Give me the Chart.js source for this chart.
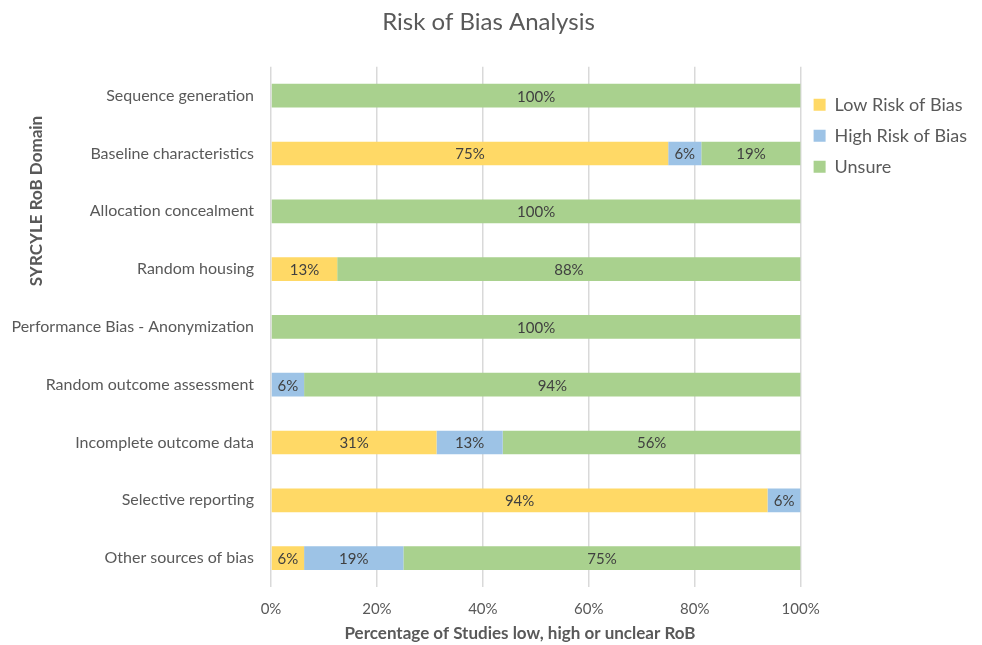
<!DOCTYPE html>
<html>
<head>
<meta charset="utf-8">
<script src="https://cdn.jsdelivr.net/npm/chart.js@4"></script>
<style>
  html, body { margin: 0; padding: 0; background: #fff; }
  #wrap { width: 982px; height: 645px; }
</style>
</head>
<body>
<div id="wrap"><canvas id="robChart"></canvas></div>
<script>
// domains, top to bottom
const domains = [
  'Sequence generation',
  'Baseline characteristics',
  'Allocation concealment',
  'Random housing',
  'Performance Bias - Anonymization',
  'Random outcome assessment',
  'Incomplete outcome data',
  'Selective reporting',
  'Other sources of bias'
];
// percent of studies per domain (16 studies)
const lowRisk  = [0, 75, 0, 12.5, 0, 0, 31.25, 93.75, 6.25];
const highRisk = [0, 6.25, 0, 0, 0, 6.25, 12.5, 6.25, 18.75];
const unsure   = [100, 18.75, 100, 87.5, 100, 93.75, 56.25, 0, 75];
const xTicks = [0, 20, 40, 60, 80, 100];

const FONT = 'Lato, "Noto Sans", sans-serif';

// labels in the middle of each bar segment
const segmentLabels = {
  id: 'segmentLabels',
  afterDatasetsDraw(chart) {
    const ctx = chart.ctx;
    ctx.save();
    ctx.font = '15px ' + FONT;
    ctx.fillStyle = '#404040';
    ctx.textAlign = 'center';
    ctx.textBaseline = 'middle';
    chart.data.datasets.forEach((ds, i) => {
      chart.getDatasetMeta(i).data.forEach((bar, j) => {
        const v = ds.data[j];
        if (!v) return;
        ctx.fillText(Math.round(v) + '%', (bar.x + bar.base) / 2, bar.y + 1);
      });
    });
    ctx.restore();
  }
};

// axis titles were moved by hand in the original, so draw them here
const axisTitles = {
  id: 'axisTitles',
  afterDraw(chart) {
    const ctx = chart.ctx;
    ctx.save();
    ctx.fillStyle = '#595959';
    ctx.textAlign = 'center';
    ctx.textBaseline = 'middle';
    ctx.font = 'bold 17px ' + FONT;
    ctx.fillText('Percentage of Studies low, high or unclear RoB', 520, 634);
    ctx.translate(37, 201);
    ctx.rotate(-Math.PI / 2);
    ctx.fillText('SYRCYLE RoB Domain', 0, 0);
    ctx.restore();
  }
};

const ctx = document.getElementById('robChart').getContext('2d');
new Chart(ctx, {
  type: 'bar',
  data: {
    labels: domains,
    datasets: [
      { label: 'Low Risk of Bias', data: lowRisk, backgroundColor: '#FFD966' },
      { label: 'High Risk of Bias', data: highRisk, backgroundColor: '#9DC3E6' },
      { label: 'Unsure', data: unsure, backgroundColor: '#A9D18E' }
    ]
  },
  options: {
    indexAxis: 'y',
    responsive: true,
    maintainAspectRatio: false,
    animation: false,
    barPercentage: 0.41,
    categoryPercentage: 1,
    layout: { padding: { left: 0, right: 5, top: 0, bottom: 27 } },
    plugins: {
      title: {
        display: true,
        text: 'Risk of Bias Analysis',
        color: '#595959',
        font: { family: FONT, size: 24, weight: 'normal' },
        padding: { top: 8, bottom: 30 }
      },
      legend: {
        position: 'right',
        align: 'start',
        fullSize: false,
        title: {
          display: true,
          text: ' ',
          font: { size: 10 },
          padding: { top: 0, bottom: 4 }
        },
        labels: {
          color: '#595959',
          font: { family: FONT, size: 18 },
          boxWidth: 12,
          boxHeight: 12,
          padding: 13
        }
      },
      tooltip: { enabled: false }
    },
    scales: {
      x: {
        stacked: true,
        min: 0,
        max: 100,
        afterBuildTicks: (s) => { s.ticks = xTicks.map(v => ({ value: v })); },
        afterFit: (s) => { s.height = 31; },
        grid: { color: '#D9D9D9', lineWidth: 1.5, drawTicks: false },
        border: { display: false },
        ticks: {
          color: '#595959',
          font: { family: FONT, size: 15 },
          padding: 13,
          callback: (v) => v + '%'
        }
      },
      y: {
        stacked: true,
        afterFit: (s) => { s.width = 271; },
        grid: { display: false, drawTicks: false },
        border: { display: false },
        ticks: {
          color: '#595959',
          font: { family: FONT, size: 16 },
          padding: 17
        }
      }
    }
  },
  plugins: [segmentLabels, axisTitles]
});
</script>
</body>
</html>
